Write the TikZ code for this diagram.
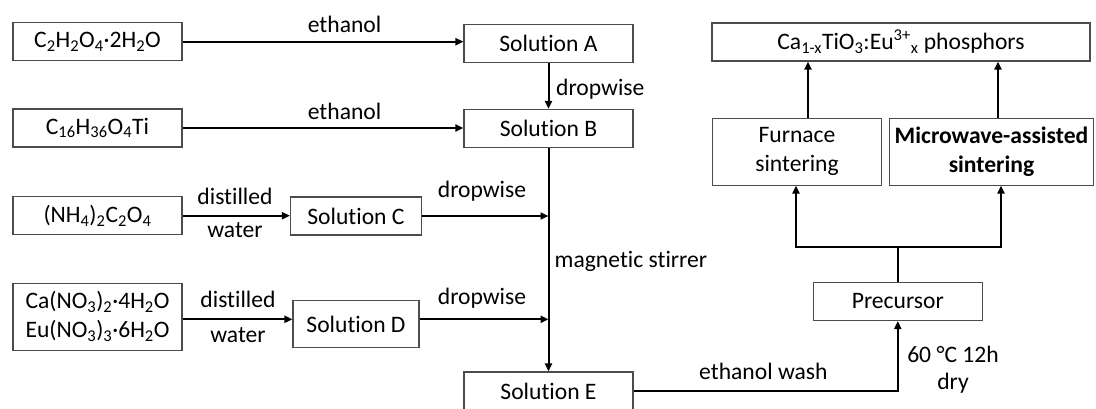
\documentclass[tikz,border=0pt]{standalone}
\usepackage{fontspec}
\setmainfont[Ligatures=CommonOff]{Carlito}
\usetikzlibrary{arrows.meta}
\newcommand\diagfont{\fontsize{23.6}{29}\selectfont}
\begin{document}
\begin{tikzpicture}[x=1pt,y=-1pt,
  box/.style={draw=black!70, line width=1.1pt, minimum width=169pt, minimum height=38pt,
              inner sep=0pt, align=center, font=\diagfont},
  tip/.tip={Triangle[length=8pt,width=7pt]},
  arr/.style={line width=2pt, -tip},
  ln/.style={line width=2pt},
  lbl/.style={font=\diagfont, inner sep=0pt, text height=16pt, text depth=4pt}]
\useasboundingbox (0,0) rectangle (1096,408);
\clip (0,0) rectangle (1096,408);

% starting materials
\node[box] (c2) at (97.5,41.7) {C\textsubscript{2}H\textsubscript{2}O\textsubscript{4}·2H\textsubscript{2}O};
\node[box] (c16) at (97.5,128) {C\textsubscript{16}H\textsubscript{36}O\textsubscript{4}Ti};
\node[box] (nh) at (97.5,215.7) {(NH\textsubscript{4})\textsubscript{2}C\textsubscript{2}O\textsubscript{4}};
\node[box, minimum height=66.7pt] (ca) at (97.5,316.7)
  {Ca(NO\textsubscript{3})\textsubscript{2}·4H\textsubscript{2}O\\Eu(NO\textsubscript{3})\textsubscript{3}·6H\textsubscript{2}O};

% solutions
\node[box] (sA) at (548.5,43.5) {Solution A};
\node[box] (sB) at (548.5,128.5) {Solution B};
\node[box, minimum width=131pt] (sC) at (356,216) {Solution C};
\node[box, minimum width=126pt, minimum height=46.6pt] (sD) at (356,324) {Solution D};
\node[box] (sE) at (548.5,391) {Solution E};

% product side
\node[box] (pre) at (897.8,301.5) {Precursor};
\node[box, minimum height=66.7pt] (fur) at (797,151.7) {Furnace\\sintering};
\node[box, minimum width=203.6pt, minimum height=66.7pt, font=\diagfont\bfseries] (mw) at (991.5,151.7)
  {Microwave-assisted\\sintering};
\node[box, minimum width=378pt] (ph) at (901,42)
  {Ca\textsubscript{1-x}TiO\textsubscript{3}:Eu\textsuperscript{3+}\textsubscript{x} phosphors};

% connectors
\draw[arr] (c2.east) -- (c2.east -| sA.west);
\draw[arr] (sA) -- (sB);
\draw[arr] (c16.east) -- (c16.east -| sB.west);
\draw[arr] (nh.east) -- (nh.east -| sC.west);
\draw[arr] (sC.east) -- (sC.east -| sB.south);
\coordinate (dy) at (0,319.3);
\draw[arr] (ca.east |- dy) -- (sD.west |- dy);
\draw[arr] (sD.east |- dy) -- (sB.south |- dy);
\draw[arr] (sB.south) -- (sE.north);
\draw[arr] (sE.east) -| (pre.south);

\coordinate (spl) at (897.8,247.3);
\coordinate (fl) at (796,247.3);
\coordinate (fr) at (1001,247.3);
\draw[ln] (pre.north) -- (spl);
\draw[line width=2pt, tip-tip] (fl |- fur.south) -- (fl) -- (fr) -- (fr |- mw.south);
\draw[arr] ([xshift=11pt]fur.north) -- ([xshift=11pt]fur.north |- ph.south);
\draw[arr] ([xshift=6.5pt]mw.north) -- ([xshift=6.5pt]mw.north |- ph.south);

% labels
\node[lbl] (e1) at (344.6,26) {ethanol};
\node[lbl] (e2) at (344.6,113) {ethanol};
\node[lbl, anchor=west] (d0) at (556,89) {dropwise};
\node[lbl] (w1a) at (235,198) {distilled};
\node[lbl] (w1b) at (235,231) {water};
\node[lbl] (d1) at (482,191) {dropwise};
\node[lbl] (w2a) at (238,301) {distilled};
\node[lbl] (w2b) at (238,336) {water};
\node[lbl] (d2) at (482,298) {dropwise};
\node[lbl, anchor=west] (ms) at (554.5,261) {magnetic stirrer};
\node[lbl] (ew) at (763.4,373.5) {ethanol wash};
\node[lbl] (t1) at (953,356.5) {60 °C 12h};
\node[lbl] (t2) at (953,383.5) {dry};
\end{tikzpicture}
\end{document}
